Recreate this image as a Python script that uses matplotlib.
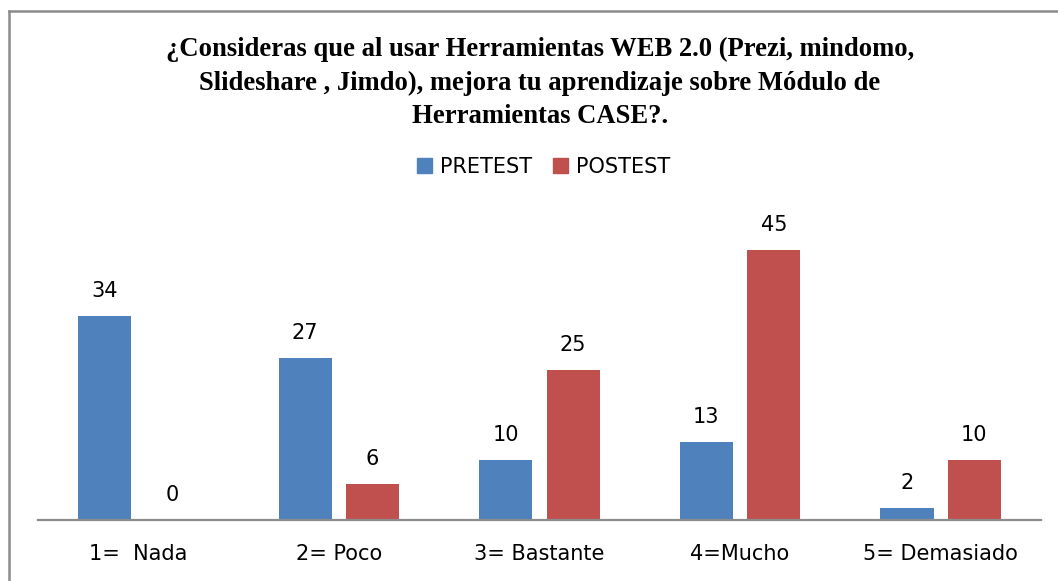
import matplotlib.pyplot as plt
import numpy as np
from matplotlib.patches import Rectangle
from matplotlib.lines import Line2D

# Survey answers per category
categories = ['1=  Nada', '2= Poco', '3= Bastante', '4=Mucho', '5= Demasiado']
pretest = [34, 27, 10, 13, 2]
postest = [0, 6, 25, 45, 10]
series_names = ['PRETEST', 'POSTEST']

title = ('¿Consideras que al usar Herramientas WEB 2.0 (Prezi, mindomo,\n'
         'Slideshare , Jimdo), mejora tu aprendizaje sobre Módulo de\n'
         'Herramientas CASE?.')

blue = '#4F81BD'
red = '#C0504D'
label_font = 'DejaVu Sans'

fig = plt.figure(figsize=(10.58, 5.81), dpi=100)
W, H = 1058, 581

# chart frame: only the top and left edges fall inside the image
frame_kw = dict(transform=fig.transFigure, color='#8c8c8c', linewidth=1.8)
fig.lines.append(Line2D([8.5 / W, 1.0], [(H - 10.5) / H] * 2, **frame_kw))
fig.lines.append(Line2D([8.5 / W] * 2, [0.0, (H - 10.5) / H], **frame_kw))

ax = fig.add_axes([38 / W, (H - 520) / H, (1041 - 38) / W, 300 / H])

x = np.arange(len(categories))
width = 0.265
off = 0.168
b1 = ax.bar(x - off, pretest, width, color=blue, label=series_names[0])
b2 = ax.bar(x + off, postest, width, color=red, label=series_names[1])

for bars, vals in ((b1, pretest), (b2, postest)):
    for rect, v in zip(bars, vals):
        ax.annotate(str(v), (rect.get_x() + rect.get_width() / 2, v),
                    xytext=(0, 18), textcoords='offset points',
                    ha='center', va='center', fontsize=15, family=label_font)

ax.set_xlim(-0.5, 4.5)
ax.set_ylim(0, 50)
ax.set_xticks(x)
ax.set_xticklabels(categories, fontsize=15, family=label_font)
ax.tick_params(axis='x', length=0, pad=17)
ax.set_yticks([])
for s in ['top', 'right', 'left']:
    ax.spines[s].set_visible(False)
ax.spines['bottom'].set_color('#8c8c8c')
ax.spines['bottom'].set_linewidth(1.6)

fig.text(540 / W, (H - 83) / H, title, ha='center', va='center',
         fontsize=19.2, fontweight='bold', family='Liberation Serif',
         linespacing=1.42)

handles = [Rectangle((0, 0), 1, 1, color=blue), Rectangle((0, 0), 1, 1, color=red)]
fig.legend(handles, series_names, loc='center', bbox_to_anchor=(544 / W, (H - 167) / H),
           ncol=2, frameon=False, prop={'family': label_font, 'size': 15},
           handlelength=0.7, handleheight=0.7, handletextpad=0.4, columnspacing=1.0)

fig.savefig('out.png', dpi=100)
